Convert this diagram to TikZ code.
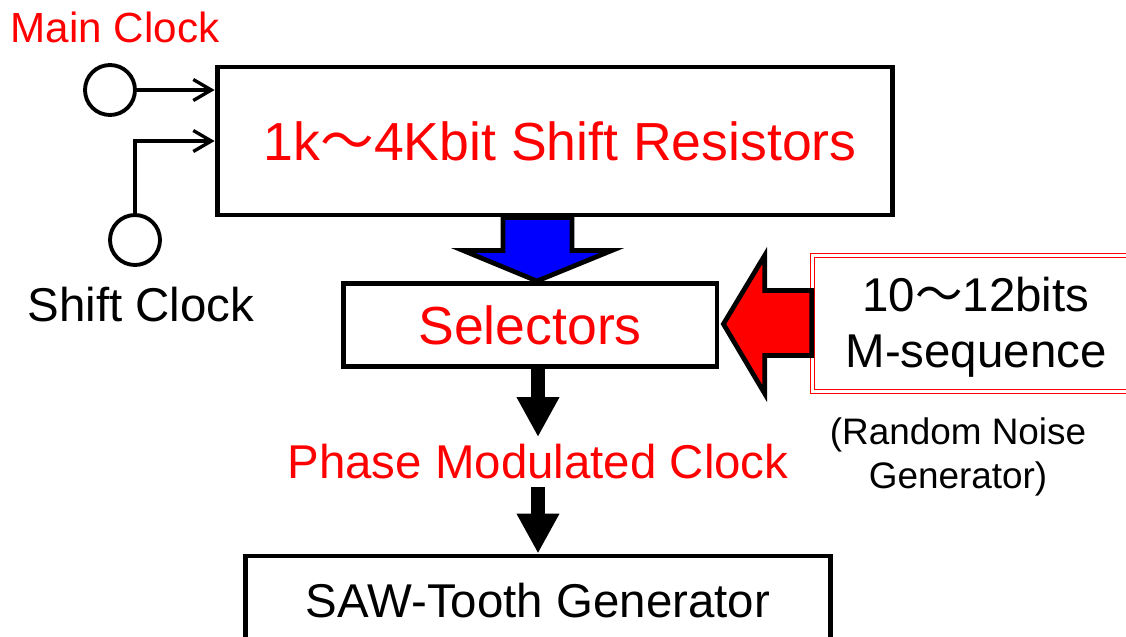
\documentclass[tikz,border=0pt]{standalone}
\usepackage{fontspec}
\setmainfont{Liberation Sans}
\newfontfamily\cjkfont{Noto Sans CJK JP}
\usetikzlibrary{arrows.meta,calc}

\begin{document}
\begin{tikzpicture}[x=0.02cm, y=-0.02cm, line width=1.9pt,
    box/.style={draw, line width=2.8pt},
    clk/.style={draw, circle, line width=2.2pt, minimum size=1cm, inner sep=0pt},
    inarrow/.style={-{Straight Barb[length=0.36cm, width=0.42cm]}},
    downarrow/.style={line width=0.28cm, -{Triangle[length=0.8cm, width=0.8cm]}},
    blockarrow/.style={draw=black, line width=2.7pt, line join=miter},
    big/.style={font=\fontsize{30.5}{36}\selectfont},
    mid/.style={font=\fontsize{27}{31.5}\selectfont}]
        \useasboundingbox (0,0) rectangle (1126,636);

        \node[text=red, font=\fontsize{24}{29}\selectfont] (mainlbl) at (115,27) {Main Clock};
        \node[clk] (mainclk) at (110,90) {};
        \node[clk] (shiftclk) at (135,240) {};
        \node[mid] (shiftlbl) at (141,305) {Shift Clock};

        \node[box, minimum width=13.52cm, minimum height=2.96cm, text=red, big]
        (shiftreg) at (555,141) {\hspace{6pt}1k{\cjkfont ～}4Kbit Shift Resistors};
        \draw[inarrow] (mainclk) -- (mainclk -| shiftreg.west);
        \draw[inarrow] (shiftclk) |- (shiftreg.west);

        \node[box, minimum width=7.48cm, minimum height=1.66cm, text=red, big]
        (sel) at (530,325) {Selectors};

        % blue block arrow from the shift register into the selectors
        \coordinate (bx) at (537,0);
        \coordinate (bstart) at (bx |- shiftreg.south);
        \coordinate (btip) at (bx |- sel.north);
        \draw[blockarrow, fill=blue] ($(bstart)+(-34,0)$) -- ($(bstart)+(35,0)$)
        -- ($(bstart)+(35,33)$) -- ($(bstart)+(75,33)$) -- (btip)
        -- ($(bstart)+(-74,33)$) -- ($(bstart)+(-34,33)$) -- cycle;

        \node[draw=red, double=white, line width=0.7pt, double distance=1.4pt,
        minimum width=6.55cm, minimum height=2.72cm, align=center, mid]
        (mseq) at (976,323.5) {\rule{0pt}{24pt}10{\cjkfont ～}12bits\\M-sequence};
        \node[align=center, font=\fontsize{21}{25}\selectfont]
        (noise) at (958,457) {(Random Noise\\Generator)};

        % red block arrow from the M-sequence into the selectors
        \coordinate (rtail) at (mseq.west);
        \draw[blockarrow, fill=red] ($(rtail)+(0,-33)$) -- ($(rtail)+(-47,-33)$)
        -- ($(rtail)+(-47,-68)$) -- ($(sel.east)+(4,-1)$) -- ($(rtail)+(-47,70)$)
        -- ($(rtail)+(-47,32)$) -- ($(rtail)+(0,32)$) -- cycle;

        \node[text=red, mid] (phase) at (538,462) {Phase Modulated Clock};
        \node[box, minimum width=11.7cm, minimum height=1.8cm,
        font=\fontsize{27}{31}\selectfont] (saw) at (538,601) {SAW-Tooth Generator};

        \draw[downarrow] (sel.south -| phase) -- (phase.north);
        \draw[downarrow] (phase.south) -- (saw.north -| phase);
\end{tikzpicture}
\end{document}
